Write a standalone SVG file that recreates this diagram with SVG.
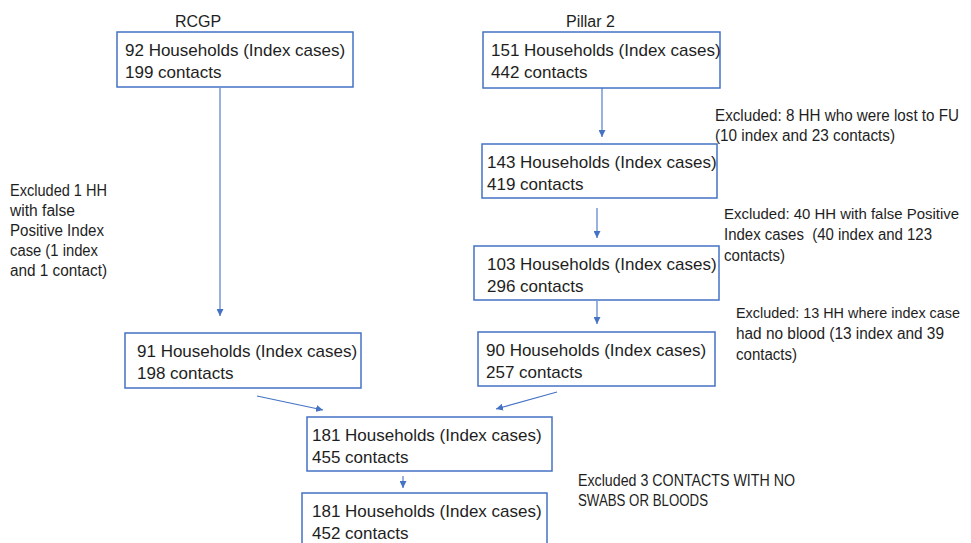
<svg xmlns="http://www.w3.org/2000/svg" width="971" height="543" viewBox="0 0 971 543">
<defs>
<marker id="ah" viewBox="0 0 10 10" refX="10" refY="5" markerWidth="7" markerHeight="7" markerUnits="userSpaceOnUse" orient="auto">
<path d="M0,0 L10,5 L0,10 z" fill="#4472C4"/>
</marker>
<style>
.box{fill:#fff;stroke:#4472C4;stroke-width:1.5}
.bt{font-family:"Liberation Sans",Arial,sans-serif;font-size:17px;fill:#1e1e1e}
.et{font-family:"Liberation Sans",Arial,sans-serif;font-size:16px;fill:#1e1e1e}
.hd{font-family:"Liberation Sans",Arial,sans-serif;font-size:16px;fill:#1e1e1e}
.cn{stroke:#4472C4;stroke-width:1.1;fill:none;marker-end:url(#ah)}
</style>
</defs>
<rect width="971" height="543" fill="#fff"/>
<text class="hd" x="175" y="27">RCGP</text>
<text class="hd" x="566" y="27">Pillar 2</text>
<g id="connectors">
<line class="cn" x1="220" y1="88" x2="220" y2="316"/>
<line class="cn" x1="602" y1="88" x2="602" y2="137"/>
<line class="cn" x1="597" y1="208" x2="597" y2="238"/>
<line class="cn" x1="597" y1="301" x2="597" y2="324"/>
<line class="cn" x1="257" y1="396" x2="323" y2="410"/>
<line class="cn" x1="557" y1="392" x2="496" y2="409"/>
<line class="cn" x1="403" y1="476" x2="403" y2="488"/>
</g>
<g id="n1"><rect class="box" x="117" y="32" width="236" height="55"/><text class="bt" x="125" y="56">92 Households (Index cases)</text><text class="bt" x="125" y="78">199 contacts</text></g>
<g id="n2"><rect class="box" x="483" y="32" width="237" height="56"/><text class="bt" x="491" y="56">151 Households (Index cases)</text><text class="bt" x="491" y="78">442 contacts</text></g>
<g id="n3"><rect class="box" x="482" y="144" width="235" height="54"/><text class="bt" x="487" y="168">143 Households (Index cases)</text><text class="bt" x="487" y="190">419 contacts</text></g>
<g id="n4"><rect class="box" x="474" y="246" width="245" height="54"/><text class="bt" x="487" y="270">103 Households (Index cases)</text><text class="bt" x="487" y="292">296 contacts</text></g>
<g id="n5"><rect class="box" x="478" y="332" width="237" height="54"/><text class="bt" x="486" y="356">90 Households (Index cases)</text><text class="bt" x="486" y="378">257 contacts</text></g>
<g id="n6"><rect class="box" x="125" y="333" width="236" height="55"/><text class="bt" x="137" y="357">91 Households (Index cases)</text><text class="bt" x="137" y="379">198 contacts</text></g>
<g id="n7"><rect class="box" x="307" y="417" width="245" height="54"/><text class="bt" x="312" y="441">181 Households (Index cases)</text><text class="bt" x="312" y="463">455 contacts</text></g>
<g id="n8"><rect class="box" x="302" y="493" width="245" height="56"/><text class="bt" x="312" y="517">181 Households (Index cases)</text><text class="bt" x="312" y="539">452 contacts</text></g>
<g id="e1">
<text class="et" x="10" y="196" textLength="97" lengthAdjust="spacingAndGlyphs">Excluded 1 HH</text>
<text class="et" x="10" y="216" textLength="65" lengthAdjust="spacingAndGlyphs">with false</text>
<text class="et" x="10" y="236" textLength="94" lengthAdjust="spacingAndGlyphs">Positive Index</text>
<text class="et" x="10" y="256" textLength="88" lengthAdjust="spacingAndGlyphs">case (1 index</text>
<text class="et" x="10" y="276" textLength="97" lengthAdjust="spacingAndGlyphs">and 1 contact)</text>
</g>
<g id="e2">
<text class="et" x="715" y="121" textLength="244" lengthAdjust="spacingAndGlyphs">Excluded: 8 HH who were lost to FU</text>
<text class="et" x="715" y="141" textLength="180" lengthAdjust="spacingAndGlyphs">(10 index and 23 contacts)</text>
</g>
<g id="e3">
<text class="et" x="724" y="219" style="font-size:15px" textLength="235" lengthAdjust="spacingAndGlyphs">Excluded: 40 HH with false Positive</text>
<text class="et" x="724" y="240" textLength="208" lengthAdjust="spacingAndGlyphs" xml:space="preserve">Index cases  (40 index and 123</text>
<text class="et" x="724" y="261" textLength="61" lengthAdjust="spacingAndGlyphs">contacts)</text>
</g>
<g id="e4">
<text class="et" x="736" y="318" style="font-size:14.5px" textLength="224" lengthAdjust="spacingAndGlyphs">Excluded: 13 HH where index case</text>
<text class="et" x="736" y="339" textLength="208" lengthAdjust="spacingAndGlyphs">had no blood (13 index and 39</text>
<text class="et" x="736" y="360" textLength="61" lengthAdjust="spacingAndGlyphs">contacts)</text>
</g>
<g id="e5">
<text class="et" x="578" y="486" textLength="217" lengthAdjust="spacingAndGlyphs">Excluded 3 CONTACTS WITH NO</text>
<text class="et" x="578" y="506" textLength="130" lengthAdjust="spacingAndGlyphs">SWABS OR BLOODS</text>
</g>
</svg>
